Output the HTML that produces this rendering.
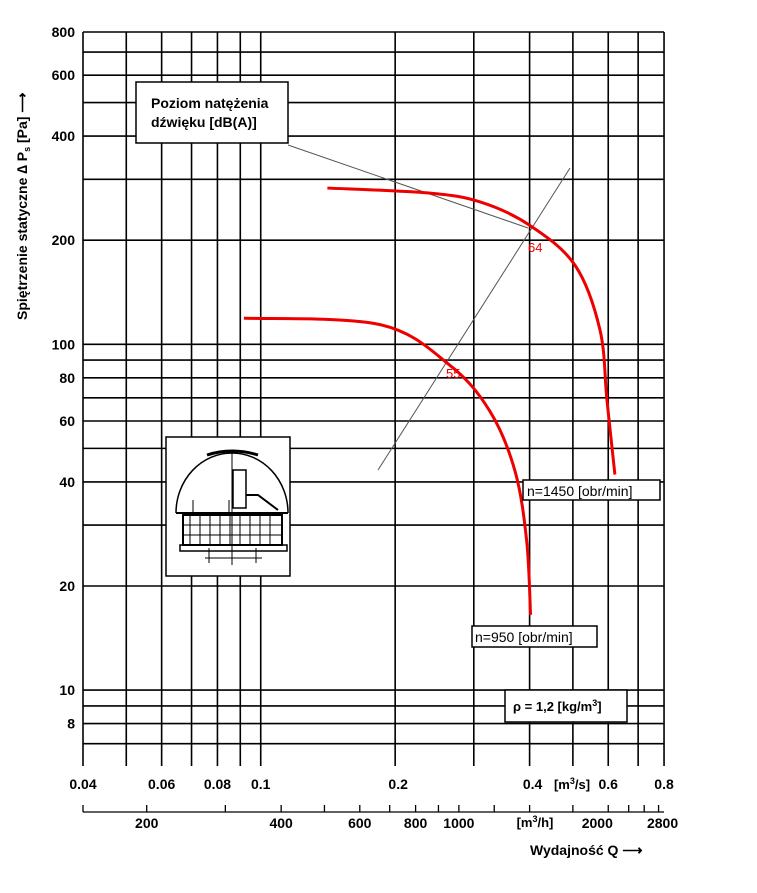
<!DOCTYPE html>
<html><head><meta charset="utf-8"><style>
body{margin:0;background:#fff}
svg{display:block;font-family:"Liberation Sans",sans-serif}
</style></head><body>
<svg id="chart" width="757" height="893" viewBox="0 0 757 893" xmlns="http://www.w3.org/2000/svg">
<g id="grid"></g>
<g id="yticks" font-size="14" font-weight="bold" text-anchor="end"></g>
<g id="xticks" font-size="14" font-weight="bold" text-anchor="middle"></g>
<g id="hticks" font-size="14" font-weight="bold" text-anchor="middle"></g>
<text x="572" y="789" font-size="13" font-weight="bold" text-anchor="middle">[m<tspan font-size="9" dy="-5">3</tspan><tspan dy="5">/s]</tspan></text>
<text x="535" y="827" font-size="13" font-weight="bold" text-anchor="middle">[m<tspan font-size="9" dy="-5">3</tspan><tspan dy="5">/h]</tspan></text>
<text x="530" y="855" font-size="14" font-weight="bold">Wydajność Q ⟶</text>
<text transform="translate(27,320) rotate(-90)" font-size="14" font-weight="bold">Spiętrzenie statyczne ∆ P<tspan font-size="9" dy="3">s</tspan><tspan dy="-3"> [Pa] ⟶</tspan></text>
<g id="guides"></g>
<g id="curves"></g>
<g>
<rect x="136" y="82" width="152" height="61" fill="#fff" stroke="#000" stroke-width="1.5"/>
<text x="151" y="108" font-size="14" font-weight="bold">Poziom natężenia</text>
<text x="151" y="127" font-size="14" font-weight="bold">dźwięku [dB(A)]</text>
</g>
<g>
<rect x="523" y="480" width="137" height="20" fill="#fff" stroke="#000" stroke-width="1.5"/>
<text x="527" y="496" font-size="14">n=1450 [obr/min]</text>
</g>
<g>
<rect x="472" y="626" width="125" height="21" fill="#fff" stroke="#000" stroke-width="1.5"/>
<text x="475" y="642" font-size="14">n=950 [obr/min]</text>
</g>
<g>
<rect x="505" y="690" width="122" height="32" fill="#fff" stroke="#000" stroke-width="1.5"/>
<text x="513" y="711" font-size="13" font-weight="bold">ρ = 1,2 [kg/m<tspan font-size="9" dy="-5">3</tspan><tspan dy="5">]</tspan></text>
</g>
<g fill="none" stroke="#000">
<rect x="166" y="437" width="124" height="139" fill="#fff" stroke-width="1.5"/>
<path d="M176 513 A56 60 0 0 1 288 513" stroke-width="1.5"/>
<path d="M207 455 Q232 447 258 455" stroke-width="3"/>
<line x1="176" y1="513" x2="288" y2="513" stroke-width="2"/>
<rect x="183" y="515" width="99" height="30" stroke-width="2"/>
<path d="M190 515V545M200 515V545M210 515V545M220 515V545M230 515V545M240 515V545M250 515V545M260 515V545M270 515V545M183 525H282M183 535H282"/>
<rect x="180" y="545" width="107" height="6" stroke-width="1.5"/>
<path d="M232 450V565M205 558H262M209 548V563M256 548V563"/>
<rect x="233" y="470" width="13" height="38" stroke-width="1.5"/>
<path d="M246 495H258L278 510" stroke-width="2"/>
<path d="M193 515V500M229 515V500"/>
</g>
<text x="528" y="252" font-size="13" fill="#e00">64</text>
<text x="446" y="378" font-size="13" fill="#e00">55</text>
</svg>
<script>
const xGrid=[0.04,0.05,0.06,0.07,0.08,0.09,0.1,0.2,0.3,0.4,0.5,0.6,0.7,0.8];
const yGrid=[7,8,9,10,20,30,40,50,60,70,80,90,100,200,300,400,500,600,700,800];
const yLabels=[8,10,20,40,60,80,100,200,400,600,800];
const xLabels=[0.04,0.06,0.08,0.1,0.2,0.4,0.6,0.8];
const hTicks=[144,200,300,400,500,600,700,800,900,1000,1200,1440,1800,2160,2400,2600,2800];
const hLabels=[200,400,600,800,1000,2000,2800];
const curve1450Q=[0.141,0.236,0.31,0.4,0.506,0.575,0.596,0.621];
const curve1450P=[283,274,258,221,169,110,69,42];
const curve950Q=[0.0917,0.185,0.265,0.326,0.371,0.394,0.402];
const curve950P=[119,114,87,64,43,27,16.5];
const X0=83,XPD=446.6,Y0=32,YPD=345.8,YB=766,XR=664;
function sx(q){return X0+XPD*Math.log10(q/0.04);}
function sy(p){return Y0+YPD*Math.log10(800/p);}
function sxh(h){return sx(h/3600);}
const NS="http://www.w3.org/2000/svg";
function mk(t,a,parent){const e=document.createElementNS(NS,t);for(const k in a)e.setAttribute(k,a[k]);parent.appendChild(e);return e;}
const grid=document.getElementById('grid');
xGrid.forEach(q=>{const l=mk('line',{x1:sx(q),x2:sx(q),y1:Y0,y2:YB,stroke:'#000','stroke-width':1.6},grid);

});
yGrid.forEach(p=>{const l=mk('line',{x1:X0,x2:XR,y1:sy(p),y2:sy(p),stroke:'#000','stroke-width':1.6},grid);

});
const yt=document.getElementById('yticks');
yLabels.forEach(p=>{const t=mk('text',{x:75,y:sy(p)+5},yt);t.textContent=p;

});
const xt=document.getElementById('xticks');
xLabels.forEach(q=>{const t=mk('text',{x:sx(q)+(q>=0.2&&q<0.5?3:0),y:789},xt);t.textContent=q;

});
const ht=document.getElementById('hticks');
const ax=mk('line',{x1:X0,x2:XR,y1:812,y2:812,stroke:'#000','stroke-width':1.3},ht);


hTicks.forEach(h=>{const l=mk('line',{x1:sxh(h),x2:sxh(h),y1:805,y2:812,stroke:'#000','stroke-width':1.3},ht);

});
hLabels.forEach(h=>{const t=mk('text',{x:sxh(h)+(h>=2000?4:0),y:828},ht);t.textContent=h;

});
const g=document.getElementById('guides');
const l1=mk('line',{x1:288,y1:145,x2:528,y2:228,stroke:'#555','stroke-width':1},g);


const l2=mk('line',{x1:378,y1:470,x2:570,y2:168,stroke:'#555','stroke-width':1},g);


function path(Q,P){const pts=Q.map((q,i)=>[sx(q),sy(P[i])]);let d='M'+pts[0][0]+' '+pts[0][1];
for(let i=0;i<pts.length-1;i++){const p0=pts[Math.max(i-1,0)],p1=pts[i],p2=pts[i+1],p3=pts[Math.min(i+2,pts.length-1)];
d+=' C'+(p1[0]+(p2[0]-p0[0])/6)+' '+(p1[1]+(p2[1]-p0[1])/6)+' '+(p2[0]-(p3[0]-p1[0])/6)+' '+(p2[1]-(p3[1]-p1[1])/6)+' '+p2[0]+' '+p2[1];}return d;}
const cg=document.getElementById('curves');
const c1=mk('path',{d:path(curve1450Q,curve1450P),fill:'none',stroke:'#e00','stroke-width':3},cg);


const c2=mk('path',{d:path(curve950Q,curve950P),fill:'none',stroke:'#e00','stroke-width':3},cg);


</script>
</body></html>
